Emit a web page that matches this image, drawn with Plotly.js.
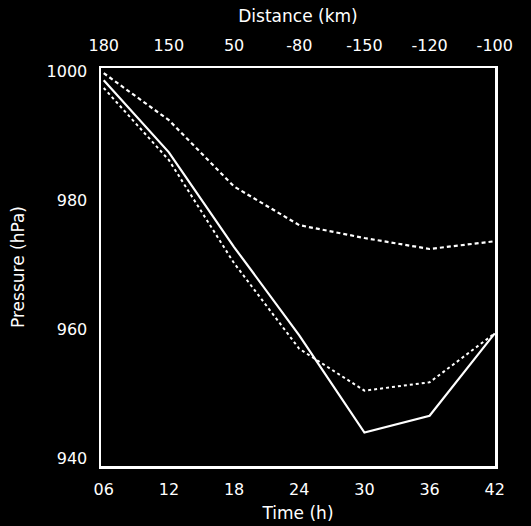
<!DOCTYPE html>
<html>
<head>
<meta charset="utf-8">
<script src="https://cdn.plot.ly/plotly-3.0.1.min.js"></script>
<style>html,body{margin:0;padding:0;background:#000;}#chart{width:531px;height:526px;}</style>
</head>
<body>
<div id="chart"></div>
<script>
var timeH = [6, 12, 18, 24, 30, 36, 42];
var timeLabels = ["06", "12", "18", "24", "30", "36", "42"];
var distanceLabels = ["180", "150", "50", "-80", "-150", "-120", "-100"];
var pressureSolid = [998.7, 987.5, 972.8, 959.1, 944.0, 946.6, 959.4];
var pressureDotted = [997.5, 986.3, 970.3, 957.0, 950.5, 951.8, 959.4];
var pressureDashed = [999.8, 992.5, 982.2, 976.2, 974.2, 972.5, 973.7];

var font = "'DejaVu Sans', sans-serif";
var traces = [
  {x: timeH, y: pressureSolid, mode: "lines", line: {color: "#fff", width: 2.2}, hoverinfo: "skip"},
  {x: timeH, y: pressureDotted, mode: "lines", line: {color: "#fff", width: 2, dash: "dot"}, hoverinfo: "skip"},
  {x: timeH, y: pressureDashed, mode: "lines", line: {color: "#fff", width: 2.2, dash: "4px,3px"}, hoverinfo: "skip"},
  {x: timeH, y: pressureDashed, xaxis: "x2", mode: "lines", line: {width: 0}, opacity: 0, hoverinfo: "skip"}
];
var layout = {
  width: 531, height: 526,
  paper_bgcolor: "#000", plot_bgcolor: "#000",
  showlegend: false,
  margin: {l: 101, r: 36, t: 68, b: 60},
  font: {family: font, color: "#fff", size: 16},
  xaxis: {
    range: [5.75, 42.02], tickvals: timeH, ticktext: timeLabels,
    showgrid: false, zeroline: false, ticks: "outside", ticklen: 7, tickcolor: "rgba(0,0,0,0)",
    showline: true, mirror: true,
    linecolor: "#fff", linewidth: 2.5,
    tickfont: {size: 16, color: "#fff"},
    title: {text: "Time (h)", font: {size: 17, color: "#fff"}, standoff: 10}
  },
  xaxis2: {
    range: [5.75, 42.02], overlaying: "x", side: "top", anchor: "y",
    tickvals: timeH, ticktext: distanceLabels,
    showgrid: false, zeroline: false, ticks: "outside", ticklen: 10, tickcolor: "rgba(0,0,0,0)",
    showline: false,
    tickfont: {size: 16, color: "#fff"},
    title: {text: "Distance (km)", font: {size: 17, color: "#fff"}, standoff: 8}
  },
  yaxis: {
    range: [938.8, 1000.6], tickvals: [940, 960, 980, 1000],
    showgrid: false, zeroline: false, ticks: "outside", ticklen: 8, tickcolor: "rgba(0,0,0,0)",
    showline: true, mirror: true,
    linecolor: "#fff", linewidth: 2.5,
    tickfont: {size: 16, color: "#fff"},
    title: {text: "Pressure (hPa)", font: {size: 17, color: "#fff"}, standoff: 18}
  }
};
Plotly.newPlot("chart", traces, layout, {displayModeBar: false, staticPlot: true});
</script>
</body>
</html>
